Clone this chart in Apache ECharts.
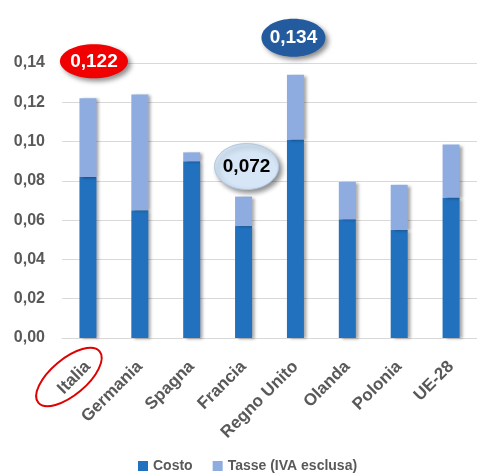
<!DOCTYPE html>
<html><head><meta charset="utf-8">
<script src="https://cdn.jsdelivr.net/npm/echarts@6/dist/echarts.min.js"></script>
<style>html,body{margin:0;padding:0;background:#fff}#c{width:477px;height:475px}</style>
</head><body><div id="c"></div>
<script>
const categories = ['Italia','Germania','Spagna','Francia','Regno Unito','Olanda','Polonia','UE-28'];
const costo = [0.082, 0.065, 0.090, 0.057, 0.101, 0.0605, 0.055, 0.0715];
const tasse = [0.040, 0.059, 0.0045, 0.015, 0.033, 0.019, 0.023, 0.027];
const seriesNames = ['Costo','Tasse (IVA esclusa)'];
const callouts = [
  {idx:0, text:'0,122', fill:'#F00000', color:'#fff', dx:6, dy:-37, rx:34, ry:17},
  {idx:4, text:'0,134', fill:'#235B9E', color:'#fff', dx:-2, dy:-37, rx:32, ry:19},
  {idx:3, text:'0,072', fill:'#D6E6F6', color:'#000', dx:3, dy:-30, rx:32, ry:23, stroke:'#AFC6E2'}
];
const FONT = '"Liberation Sans", Arial, sans-serif';
const chart = echarts.init(document.getElementById('c'));
const shadow = {shadowColor:'rgba(0,0,0,0.35)', shadowBlur:3, shadowOffsetX:3, shadowOffsetY:1};
chart.setOption({
  animation:false,
  grid:{left:62, top:63, width:418, bottom:137, containLabel:false},
  legend:{left:138, top:459, padding:0, itemWidth:10, itemHeight:10, itemGap:20, icon:'rect',
    textStyle:{fontFamily:FONT, fontWeight:'bold', fontSize:14, color:'#595959'},
    data:seriesNames},
  xAxis:{type:'category', data:categories,
    axisLine:{show:true, lineStyle:{color:'#D9D9D9'}}, axisTick:{show:false},
    axisLabel:{interval:0, rotate:45, margin:26, fontFamily:FONT, fontWeight:'bold', fontSize:17, color:'#595959'}},
  yAxis:{type:'value', min:0, max:0.14, interval:0.02,
    axisLine:{show:false}, axisTick:{show:false},
    splitLine:{lineStyle:{color:'#D9D9D9'}},
    axisLabel:{margin:17, fontFamily:FONT, fontWeight:'bold', fontSize:16, color:'#595959',
      formatter:v=>v.toFixed(2).replace('.',',')}},
  series:[
    {name:seriesNames[0], type:'bar', stack:'s', data:costo, barWidth:17, itemStyle:Object.assign({color:'#2171BF'},shadow)},
    {name:seriesNames[1], type:'bar', stack:'s', data:tasse, barWidth:17, itemStyle:Object.assign({color:'#8EACDF'},shadow)}
  ]
});
const g = [];
callouts.forEach(c=>{
  const total = costo[c.idx]+tasse[c.idx];
  const p = chart.convertToPixel({gridIndex:0}, [c.idx, total]);
  const cx = p[0]+c.dx, cy = p[1]+c.dy;
  g.push({type:'ellipse', shape:{cx:cx, cy:cy, rx:c.rx, ry:c.ry},
    style:{fill:c.fill, stroke:c.stroke||null, lineWidth:1, shadowColor:'rgba(0,0,0,0.45)', shadowBlur:5, shadowOffsetX:3, shadowOffsetY:3}, z:10});
  g.push({type:'text', x:cx, y:cy, style:{text:c.text, fill:c.color, font:'bold 19px '+FONT, align:'center', verticalAlign:'middle'}, z:11});
});
const p0 = chart.convertToPixel({gridIndex:0}, [0, 0]);
g.push({type:'ellipse', x:p0[0]-19, y:p0[1]+39, rotation:40*Math.PI/180,
  shape:{cx:0, cy:0, rx:40, ry:18}, style:{fill:'none', stroke:'#E00000', lineWidth:2}, z:10});
chart.setOption({graphic:g});
</script></body></html>
